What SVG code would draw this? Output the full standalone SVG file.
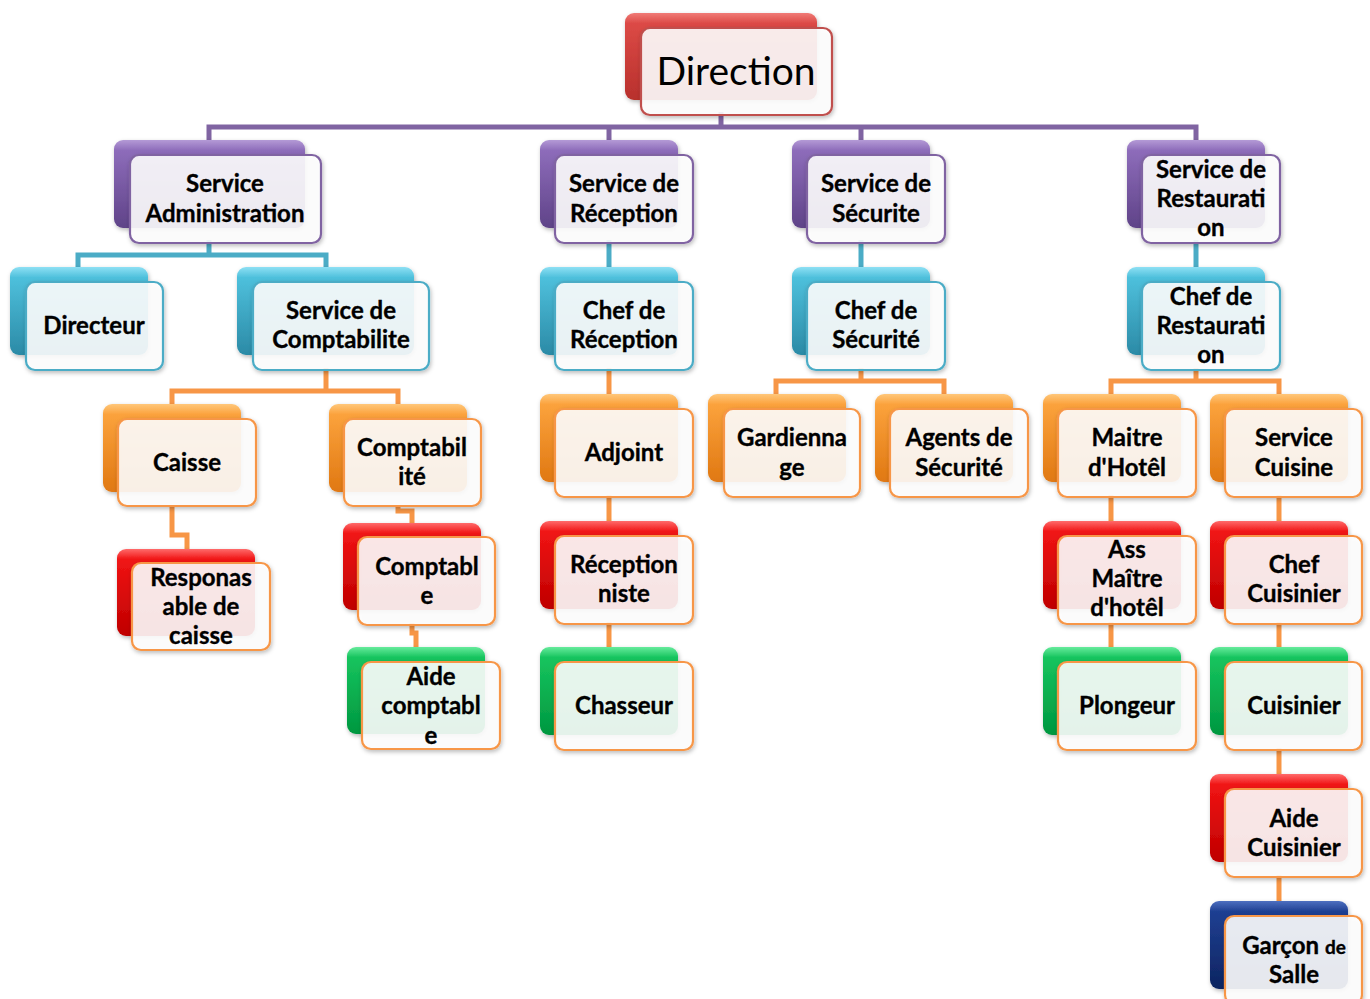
<svg xmlns="http://www.w3.org/2000/svg" width="1370" height="999" viewBox="0 0 1370 999">
  <defs>
    <linearGradient id="gDir" x1="0" y1="0" x2="0" y2="1">
      <stop offset="0" stop-color="#f07a76"/>
      <stop offset="0.12" stop-color="#dc4a46"/>
      <stop offset="1" stop-color="#b8302c"/>
    </linearGradient>
    <linearGradient id="gPurple" x1="0" y1="0" x2="0" y2="1">
      <stop offset="0" stop-color="#b49ad6"/>
      <stop offset="0.12" stop-color="#8d6cba"/>
      <stop offset="1" stop-color="#5f4388"/>
    </linearGradient>
    <linearGradient id="gBlue" x1="0" y1="0" x2="0" y2="1">
      <stop offset="0" stop-color="#8ee0f4"/>
      <stop offset="0.12" stop-color="#4ec0dc"/>
      <stop offset="1" stop-color="#2b8aa6"/>
    </linearGradient>
    <linearGradient id="gOrange" x1="0" y1="0" x2="0" y2="1">
      <stop offset="0" stop-color="#ffc77a"/>
      <stop offset="0.12" stop-color="#fba23c"/>
      <stop offset="1" stop-color="#e07812"/>
    </linearGradient>
    <linearGradient id="gRed" x1="0" y1="0" x2="0" y2="1">
      <stop offset="0" stop-color="#ff6a6a"/>
      <stop offset="0.12" stop-color="#f01414"/>
      <stop offset="1" stop-color="#bf0000"/>
    </linearGradient>
    <linearGradient id="gGreen" x1="0" y1="0" x2="0" y2="1">
      <stop offset="0" stop-color="#66eb9c"/>
      <stop offset="0.12" stop-color="#16c45e"/>
      <stop offset="1" stop-color="#00973f"/>
    </linearGradient>
    <linearGradient id="gNavy" x1="0" y1="0" x2="0" y2="1">
      <stop offset="0" stop-color="#4d6fc0"/>
      <stop offset="0.12" stop-color="#1f3f92"/>
      <stop offset="1" stop-color="#0d2460"/>
    </linearGradient>
    <filter id="shadow" x="-10%" y="-10%" width="125%" height="130%">
      <feDropShadow dx="1" dy="2" stdDeviation="2" flood-color="#000" flood-opacity="0.28"/>
    </filter>
  </defs>
  <style>
    .conn { fill: none; stroke-width: 5; stroke-linejoin: miter; }
    .c-purple { stroke: #8064a2; }
    .c-blue { stroke: #4bacc6; }
    .c-orange { stroke: #f79646; }
    .back { filter: url(#shadow); }
    .front { fill: #ffffff; fill-opacity: 0.88; stroke-width: 2.2; filter: url(#shadow); }
    .f-dir { stroke: #c0504d; }
    .f-purple { stroke: #8064a2; }
    .f-blue { stroke: #4bacc6; }
    .f-orange { stroke: #f79646; }
    text { font-family: Lato, "Open Sans", "Liberation Sans", sans-serif; font-weight: bold; font-size: 24px; fill: #000; text-anchor: middle; stroke: #000; stroke-width: 0.35px; }
    .title { font-weight: normal; font-size: 39px; stroke: none; }
    .small { font-size: 19px; }
  </style>
  <rect width="1370" height="999" fill="#ffffff"/>

  <g id="connectors">
    <!-- Direction to services -->
    <path class="conn c-purple" d="M721 112 V127"/>
    <path class="conn c-purple" d="M209 142 V127 H1196 V142"/>
    <path class="conn c-purple" d="M609 127 V142"/>
    <path class="conn c-purple" d="M861 127 V142"/>
    <!-- services to chiefs -->
    <path class="conn c-blue" d="M209 240 V255"/>
    <path class="conn c-blue" d="M78 269 V255 H326 V269"/>
    <path class="conn c-blue" d="M609 240 V269"/>
    <path class="conn c-blue" d="M861 240 V269"/>
    <path class="conn c-blue" d="M1196 240 V269"/>
    <!-- comptabilite branch -->
    <path class="conn c-orange" d="M326 368 V391"/>
    <path class="conn c-orange" d="M172 406 V391 H398 V406"/>
    <path class="conn c-orange" d="M172 505 V535 H187 V550"/>
    <path class="conn c-orange" d="M398 505 V511 H412 V524"/>
    <path class="conn c-orange" d="M412 623 V633 H416 V649"/>
    <!-- reception column -->
    <path class="conn c-orange" d="M609 368 V396"/>
    <path class="conn c-orange" d="M609 495 V523"/>
    <path class="conn c-orange" d="M609 622 V649"/>
    <!-- securite branch -->
    <path class="conn c-orange" d="M861 368 V381"/>
    <path class="conn c-orange" d="M776 396 V381 H944 V396"/>
    <!-- restauration branch -->
    <path class="conn c-orange" d="M1196 368 V381"/>
    <path class="conn c-orange" d="M1111 396 V381 H1279 V396"/>
    <path class="conn c-orange" d="M1111 495 V523"/>
    <path class="conn c-orange" d="M1111 622 V649"/>
    <path class="conn c-orange" d="M1279 495 V523"/>
    <path class="conn c-orange" d="M1279 622 V649"/>
    <path class="conn c-orange" d="M1279 748 V776"/>
    <path class="conn c-orange" d="M1279 875 V903"/>
  </g>

  <g id="direction">
    <rect class="back" x="625" y="13" width="192" height="87" rx="9" fill="url(#gDir)"/>
    <rect class="front f-dir" x="641" y="28" width="191" height="87" rx="9"/>
    <text class="title" x="736" y="85">Direction</text>
  </g>

  <g id="service-administration">
    <rect class="back" x="114" y="140" width="191" height="88" rx="9" fill="url(#gPurple)"/>
    <rect class="front f-purple" x="130" y="155" width="191" height="88" rx="9"/>
    <text x="225" y="192">Service</text>
    <text x="225" y="222">Administration</text>
  </g>

  <g id="service-reception">
    <rect class="back" x="540" y="140" width="138" height="88" rx="9" fill="url(#gPurple)"/>
    <rect class="front f-purple" x="555" y="155" width="138" height="88" rx="9"/>
    <text x="624" y="192">Service de</text>
    <text x="624" y="222">Réception</text>
  </g>

  <g id="service-securite">
    <rect class="back" x="792" y="140" width="138" height="88" rx="9" fill="url(#gPurple)"/>
    <rect class="front f-purple" x="807" y="155" width="138" height="88" rx="9"/>
    <text x="876" y="192">Service de</text>
    <text x="876" y="222">Sécurite</text>
  </g>

  <g id="service-restauration">
    <rect class="back" x="1127" y="140" width="138" height="88" rx="9" fill="url(#gPurple)"/>
    <rect class="front f-purple" x="1142" y="155" width="138" height="88" rx="9"/>
    <text x="1211" y="178">Service de</text>
    <text x="1211" y="207">Restaurati</text>
    <text x="1211" y="236">on</text>
  </g>

  <g id="directeur">
    <rect class="back" x="10" y="267" width="138" height="88" rx="9" fill="url(#gBlue)"/>
    <rect class="front f-blue" x="26" y="282" width="137" height="88" rx="9"/>
    <text x="94" y="334">Directeur</text>
  </g>

  <g id="service-comptabilite">
    <rect class="back" x="237" y="267" width="177" height="88" rx="9" fill="url(#gBlue)"/>
    <rect class="front f-blue" x="253" y="282" width="176" height="88" rx="9"/>
    <text x="341" y="319">Service de</text>
    <text x="341" y="348">Comptabilite</text>
  </g>

  <g id="chef-reception">
    <rect class="back" x="540" y="267" width="138" height="88" rx="9" fill="url(#gBlue)"/>
    <rect class="front f-blue" x="555" y="282" width="138" height="88" rx="9"/>
    <text x="624" y="319">Chef de</text>
    <text x="624" y="348">Réception</text>
  </g>

  <g id="chef-securite">
    <rect class="back" x="792" y="267" width="138" height="88" rx="9" fill="url(#gBlue)"/>
    <rect class="front f-blue" x="807" y="282" width="138" height="88" rx="9"/>
    <text x="876" y="319">Chef de</text>
    <text x="876" y="348">Sécurité</text>
  </g>

  <g id="chef-restauration">
    <rect class="back" x="1127" y="267" width="138" height="88" rx="9" fill="url(#gBlue)"/>
    <rect class="front f-blue" x="1142" y="282" width="138" height="88" rx="9"/>
    <text x="1211" y="305">Chef de</text>
    <text x="1211" y="334">Restaurati</text>
    <text x="1211" y="363">on</text>
  </g>

  <g id="caisse">
    <rect class="back" x="103" y="404" width="138" height="88" rx="9" fill="url(#gOrange)"/>
    <rect class="front f-orange" x="118" y="419" width="138" height="87" rx="9"/>
    <text x="187" y="471">Caisse</text>
  </g>

  <g id="comptabilite">
    <rect class="back" x="329" y="404" width="138" height="88" rx="9" fill="url(#gOrange)"/>
    <rect class="front f-orange" x="344" y="419" width="137" height="87" rx="9"/>
    <text x="412" y="456">Comptabil</text>
    <text x="412" y="485">ité</text>
  </g>

  <g id="adjoint">
    <rect class="back" x="540" y="394" width="138" height="88" rx="9" fill="url(#gOrange)"/>
    <rect class="front f-orange" x="555" y="409" width="138" height="88" rx="9"/>
    <text x="624" y="461">Adjoint</text>
  </g>

  <g id="gardiennage">
    <rect class="back" x="708" y="394" width="138" height="88" rx="9" fill="url(#gOrange)"/>
    <rect class="front f-orange" x="724" y="409" width="136" height="88" rx="9"/>
    <text x="792" y="446">Gardienna</text>
    <text x="792" y="476">ge</text>
  </g>

  <g id="agents-securite">
    <rect class="back" x="875" y="394" width="138" height="88" rx="9" fill="url(#gOrange)"/>
    <rect class="front f-orange" x="890" y="409" width="138" height="88" rx="9"/>
    <text x="959" y="446">Agents de</text>
    <text x="959" y="476">Sécurité</text>
  </g>

  <g id="maitre-hotel">
    <rect class="back" x="1043" y="394" width="138" height="88" rx="9" fill="url(#gOrange)"/>
    <rect class="front f-orange" x="1058" y="409" width="138" height="88" rx="9"/>
    <text x="1127" y="446">Maitre</text>
    <text x="1127" y="476">d'Hotêl</text>
  </g>

  <g id="service-cuisine">
    <rect class="back" x="1210" y="394" width="138" height="88" rx="9" fill="url(#gOrange)"/>
    <rect class="front f-orange" x="1225" y="409" width="137" height="88" rx="9"/>
    <text x="1294" y="446">Service</text>
    <text x="1294" y="476">Cuisine</text>
  </g>

  <g id="responsable-caisse">
    <rect class="back" x="117" y="549" width="138" height="87" rx="9" fill="url(#gRed)"/>
    <rect class="front f-orange" x="132" y="563" width="138" height="87" rx="9"/>
    <text x="201" y="586">Responas</text>
    <text x="201" y="615">able de</text>
    <text x="201" y="644">caisse</text>
  </g>

  <g id="comptable">
    <rect class="back" x="343" y="523" width="138" height="87" rx="9" fill="url(#gRed)"/>
    <rect class="front f-orange" x="358" y="537" width="137" height="88" rx="9"/>
    <text x="427" y="575">Comptabl</text>
    <text x="427" y="604">e</text>
  </g>

  <g id="aide-comptable">
    <rect class="back" x="347" y="647" width="138" height="87" rx="9" fill="url(#gGreen)"/>
    <rect class="front f-orange" x="362" y="662" width="138" height="87" rx="9"/>
    <text x="431" y="685">Aide</text>
    <text x="431" y="714">comptabl</text>
    <text x="431" y="744">e</text>
  </g>

  <g id="receptionniste">
    <rect class="back" x="540" y="521" width="138" height="88" rx="9" fill="url(#gRed)"/>
    <rect class="front f-orange" x="555" y="536" width="138" height="88" rx="9"/>
    <text x="624" y="573">Réception</text>
    <text x="624" y="602">niste</text>
  </g>

  <g id="chasseur">
    <rect class="back" x="540" y="647" width="138" height="88" rx="9" fill="url(#gGreen)"/>
    <rect class="front f-orange" x="555" y="662" width="138" height="88" rx="9"/>
    <text x="624" y="714">Chasseur</text>
  </g>

  <g id="ass-maitre-hotel">
    <rect class="back" x="1043" y="521" width="138" height="88" rx="9" fill="url(#gRed)"/>
    <rect class="front f-orange" x="1058" y="536" width="138" height="88" rx="9"/>
    <text x="1127" y="558">Ass</text>
    <text x="1127" y="587">Maître</text>
    <text x="1127" y="616">d'hotêl</text>
  </g>

  <g id="plongeur">
    <rect class="back" x="1043" y="647" width="138" height="88" rx="9" fill="url(#gGreen)"/>
    <rect class="front f-orange" x="1058" y="662" width="138" height="88" rx="9"/>
    <text x="1127" y="714">Plongeur</text>
  </g>

  <g id="chef-cuisinier">
    <rect class="back" x="1210" y="521" width="138" height="88" rx="9" fill="url(#gRed)"/>
    <rect class="front f-orange" x="1225" y="536" width="137" height="88" rx="9"/>
    <text x="1294" y="573">Chef</text>
    <text x="1294" y="602">Cuisinier</text>
  </g>

  <g id="cuisinier">
    <rect class="back" x="1210" y="647" width="138" height="88" rx="9" fill="url(#gGreen)"/>
    <rect class="front f-orange" x="1225" y="662" width="137" height="88" rx="9"/>
    <text x="1294" y="714">Cuisinier</text>
  </g>

  <g id="aide-cuisinier">
    <rect class="back" x="1210" y="774" width="138" height="88" rx="9" fill="url(#gRed)"/>
    <rect class="front f-orange" x="1225" y="789" width="137" height="88" rx="9"/>
    <text x="1294" y="827">Aide</text>
    <text x="1294" y="856">Cuisinier</text>
  </g>

  <g id="garcon-salle">
    <rect class="back" x="1210" y="901" width="138" height="88" rx="9" fill="url(#gNavy)"/>
    <rect class="front f-orange" x="1225" y="916" width="137" height="88" rx="9"/>
    <text x="1294" y="954">Garçon <tspan class="small">de</tspan></text>
    <text x="1294" y="983">Salle</text>
  </g>
</svg>
